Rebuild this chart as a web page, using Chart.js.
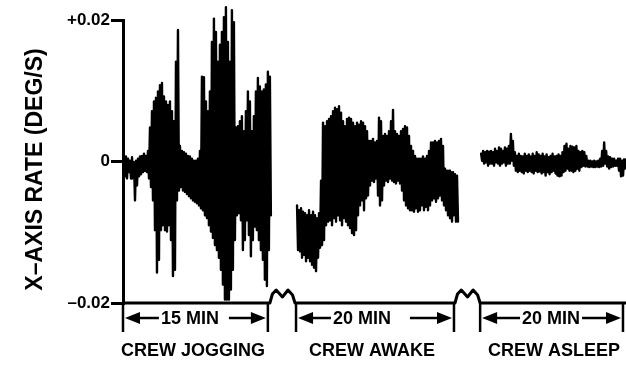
<!DOCTYPE html>
<html><head><meta charset="utf-8">
<script src="https://cdn.jsdelivr.net/npm/chart.js@4.4.1/dist/chart.umd.min.js"></script>
<style>html,body{margin:0;padding:0;background:#fff}#wrap{width:626px;height:365px;position:relative}</style>
</head><body><div id="wrap"><canvas id="c"></canvas></div>
<script>
// ---- DATA (rates, in units of 1e-4 deg/s) ----
const RATE_UNIT = 1e-4;
const segmentNames = ['CREW JOGGING', 'CREW AWAKE', 'CREW ASLEEP'];
const segmentDurationsMin = [15, 20, 20];
const durationLabels = ['15 MIN', '20 MIN', '20 MIN'];
const yTickValues = [-0.02, 0, 0.02];
const yTickLabels = ['\u20130.02', '0', '+0.02'];
const yAxisTitle = 'X\u2013AXIS RATE (DEG/S)';

// successive upper swings / lower swings of the trace
const jogPeaks = [4,7,4,1,6,-1,1,4,7,8, 11,8,15,48,71,85,90,99,108,111, 92,85,80,85,71,57,141,186,22,15,
  13,11,8,7,4,1,1,4,15,120, 119,85,71,99,169,202,183,141,165,183, 204,218,169,141,214,197,48,50,57,64,
  43,71,99,85,43,64,99,118,106,99, 102,109,127,120];
const jogTroughs = [-21,-24,-15,-24,-20,-55,-34,-21,-18,-15, -13,-15,-24,-36,-55,-97,-157,-139,-97,-90,
  -97,-99,-90,-111,-162,-153,-55,-41,-36,-41, -43,-46,-49,-52,-55,-57,-59,-62,-66,-69,
  -76,-80,-90,-99,-108,-118,-125,-136,-153,-174, -195,-195,-195,-181,-153,-111,-76,-73,-83,-125,
  -111,-83,-104,-134,-111,-92,-97,-111,-125,-139, -167,-176,-125,-76];
const awakePeaks = [-62,-69,-66,-71,-73,-76,-69,-76,-71,-76, -80,-73,-27,55,50,57,60,64,71,76,
  74,78,69,57,50,60,62,60,55,50, 55,52,57,55,50,43,29,29,32,27, 29,62,57,36,39,36,43,57,73,43,
  39,36,43,46,50,48,36,22,15,8, 4,4,4,7,4,8,15,27,27,29, 27,29,32,22,-10,-13,-13,-15,-15,-18, -20];
const awakeTroughs = [-125,-127,-136,-132,-141,-136,-141,-146,-150,-155, -136,-122,-118,-111,-90,-85,-83,-90,-80,-85,
  -76,-83,-90,-80,-85,-90,-94,-101,-104,-97, -76,-62,-55,-69,-52,-48,-34,-27,-29,-24,
  -48,-62,-55,-34,-27,-29,-24,-27,-29,-31, -27,-31,-41,-55,-62,-66,-69,-69,-71,-66,
  -71,-69,-62,-69,-64,-69,-62,-55,-52,-57, -52,-48,-55,-62,-69,-76,-80,-85,-76,-85, -85];
const asleepPeaks = [11,15,13,15,14,15,13,18,15,20, 18,15,20,18,22,39,29,13,8,11, 8,7,11,8,10,7,11,8,13,10,
  8,11,7,10,6,8,11,7,8,10, 8,13,22,25,18,22,21,20,22,15, 13,15,13,8,1,1,0,1,0,1,
  4,15,27,15,7,6,4,4,1,4, 4,1,3];
const asleepTroughs = [1,-3,-1,-6,-3,-3,-6,-1,-3,-6, -3,-1,-6,-3,-3,1,-6,-13,-15,-13,
  -15,-17,-13,-15,-13,-15,-17,-13,-15,-14, -17,-15,-20,-15,-18,-15,-13,-17,-20,-21,
  -20,-15,-13,-10,-13,-13,-15,-13,-10,-13, -8,-6,-7,-7,-8,-7,-8,-8,-7,-8,
  -7,-6,-3,-7,-10,-8,-7,-6,-6,-13, -21,-20,-10];

// ---- LAYOUT (fractions of the plot width) ----
const SEG_SPAN = [[0.002, 0.294], [0.346, 0.666], [0.712, 0.998]];
const BREAKS = [[0.292, 0.342], [0.660, 0.710]];
const EXT = [[0.000, 0.288], [0.344, 0.658], [0.710, 0.994]];
const DIM_TEXT_C = [0.133, 0.475, 0.851];
const DIM_GAPS = [[2, 10], [2, 19], [2, 2]];
const CAT_C = [0.139, 0.495, 0.857];

function buildTrace(peaks, troughs, dur) {
  const vals = [];
  for (let i = 0; i < peaks.length; i++) { vals.push(peaks[i]); vals.push(troughs[i]); }
  const n = vals.length;
  return vals.map((v, k) => ({ x: k / (n - 1) * dur, y: v * RATE_UNIT }));
}
const traces = [
  buildTrace(jogPeaks, jogTroughs, segmentDurationsMin[0]),
  buildTrace(awakePeaks, awakeTroughs, segmentDurationsMin[1]),
  buildTrace(asleepPeaks, asleepTroughs, segmentDurationsMin[2])
];
const axisIds = ['xJ', 'xA', 'xS'];
const xScales = {};
axisIds.forEach((id, i) => {
  const [a, b] = SEG_SPAN[i];
  const span = segmentDurationsMin[i] / (b - a);
  const min = -a * span;
  xScales[id] = { type: 'linear', display: false, min: min, max: min + span };
});

const FONT = '"Liberation Sans", Arial, Helvetica, sans-serif';

const annot = {
  id: 'annot',
  afterDraw(chart) {
    const ctx = chart.ctx, ca = chart.chartArea, ys = chart.scales.y;
    const W = ca.right - ca.left;
    const px = f => ca.left + f * W;
    const base = ys.getPixelForValue(yTickValues[0]);
    ctx.save();
    ctx.strokeStyle = '#000'; ctx.fillStyle = '#000';
    // baseline with breaks
    ctx.lineWidth = 3; ctx.lineJoin = 'round'; ctx.lineCap = 'butt';
    ctx.beginPath();
    ctx.moveTo(ca.left, base);
    for (const [a, b] of BREAKS) {
      const xa = px(a), xb = px(b), w = xb - xa;
      ctx.lineTo(xa, base);
      ctx.lineTo(xa + 0.1 * w, base - 9);
      ctx.lineTo(xa + 0.25 * w, base - 13);
      ctx.lineTo(xa + 0.5 * w, base - 6);
      ctx.lineTo(xa + 0.72 * w, base - 13);
      ctx.lineTo(xa + 0.9 * w, base - 8);
      ctx.lineTo(xb, base);
    }
    ctx.lineTo(ca.right, base);
    ctx.stroke();
    // extension lines
    ctx.lineWidth = 2.5;
    EXT.forEach(([a, b]) => {
      [a, b].forEach(f => {
        const x = Math.min(px(f), ca.right - 2);
        ctx.beginPath(); ctx.moveTo(x, base - 1); ctx.lineTo(x, base + 29); ctx.stroke();
      });
    });
    // dimension arrows
    const ay = base + 15;
    ctx.font = 'bold 18px ' + FONT;
    ctx.textAlign = 'center'; ctx.textBaseline = 'middle';
    EXT.forEach(([a, b], i) => {
      const xl = px(a) + 2, xr = Math.min(px(b), ca.right - 2) - 2;
      const head = 15, hh = 6;
      ctx.beginPath(); ctx.moveTo(xl, ay); ctx.lineTo(xl + head, ay - hh); ctx.lineTo(xl + head, ay + hh); ctx.closePath(); ctx.fill();
      ctx.beginPath(); ctx.moveTo(xr, ay); ctx.lineTo(xr - head, ay - hh); ctx.lineTo(xr - head, ay + hh); ctx.closePath(); ctx.fill();
      const tc = px(DIM_TEXT_C[i]);
      const tw = ctx.measureText(durationLabels[i]).width;
      ctx.lineWidth = 2.5;
      ctx.beginPath(); ctx.moveTo(xl + head - 1, ay); ctx.lineTo(tc - tw / 2 - DIM_GAPS[i][0], ay); ctx.stroke();
      ctx.beginPath(); ctx.moveTo(tc + tw / 2 + DIM_GAPS[i][1], ay); ctx.lineTo(xr - head + 1, ay); ctx.stroke();
      ctx.fillText(durationLabels[i], tc, ay + 1);
    });
    // category labels
    segmentNames.forEach((s, i) => ctx.fillText(s, px(CAT_C[i]), base + 48));
    // y axis title
    ctx.save();
    ctx.translate(36, (ca.top + base) / 2 + 8);
    ctx.rotate(-Math.PI / 2);
    ctx.font = 'bold 23px ' + FONT;
    ctx.fillText(yAxisTitle, 0, 0);
    ctx.restore();
    ctx.restore();
  }
};

new Chart(document.getElementById('c'), {
  type: 'line',
  data: {
    datasets: traces.map((d, i) => ({
      label: segmentNames[i], data: d, xAxisID: axisIds[i], yAxisID: 'y',
      borderColor: '#000', borderWidth: 2.4, borderJoinStyle: 'round', borderCapStyle: 'round',
      pointRadius: 0, tension: 0, fill: false, clip: false
    }))
  },
  options: {
    responsive: true, maintainAspectRatio: false, animation: false,
    layout: { padding: { top: 20, bottom: 62, left: 0, right: 0 } },
    plugins: { legend: { display: false }, tooltip: { enabled: false } },
    scales: Object.assign({}, xScales, {
      y: {
        type: 'linear', min: yTickValues[0], max: yTickValues[yTickValues.length - 1],
        afterFit(s) { s.width = 123; },
        afterBuildTicks(s) { s.ticks = yTickValues.map(v => ({ value: v })); },
        ticks: {
          color: '#000', padding: 1,
          font: { family: FONT, size: 17, weight: 'bold' },
          callback: (v) => yTickLabels[yTickValues.indexOf(v)]
        },
        grid: { drawOnChartArea: false, drawTicks: true, tickLength: 12, color: '#000', lineWidth: 3 },
        border: { display: true, color: '#000', width: 3 }
      }
    })
  },
  plugins: [annot]
});
</script></body></html>
